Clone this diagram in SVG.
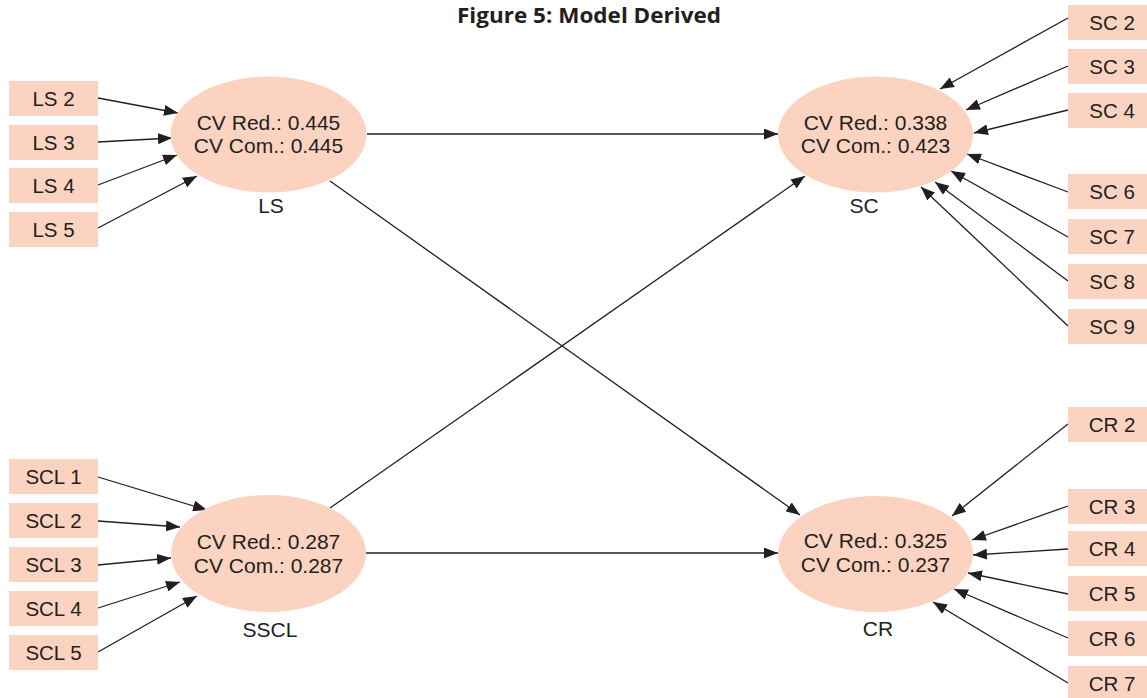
<svg xmlns="http://www.w3.org/2000/svg" width="1147" height="698" viewBox="0 0 1147 698">
  <defs>
    <marker id="arrow" markerUnits="userSpaceOnUse" markerWidth="14" markerHeight="11" refX="14" refY="5.5" orient="auto">
      <path d="M0,0 L14,5.5 L0,11 z" fill="#231f20"/>
    </marker>
    <style>
      .ind rect { fill: #fbd3c0; }
      .ind text { font-family: "Liberation Sans", Arial, sans-serif; font-size: 20.5px; fill: #231f20; text-anchor: middle; }
      .lat ellipse { fill: #fbd3c0; }
      .lat text { font-family: "Liberation Sans", Arial, sans-serif; font-size: 21px; fill: #231f20; text-anchor: middle; }
      #connectors line { stroke: #231f20; stroke-width: 1.3; fill: none; marker-end: url(#arrow); }
      .title { font-family: "Open Sans", "Liberation Sans", sans-serif; font-weight: bold; font-size: 21px; fill: #231f20; text-anchor: middle; }
    </style>
  </defs>
  <rect width="1147" height="698" fill="#ffffff"/>

  <text class="title" x="589" y="23" textLength="264" lengthAdjust="spacingAndGlyphs">Figure 5: Model Derived</text>

  <!-- connectors -->
  <g id="connectors">
    <!-- LS indicators -->
    <line x1="98" y1="98" x2="178" y2="113"/>
    <line x1="98" y1="142" x2="172" y2="138"/>
    <line x1="98" y1="185" x2="177" y2="155"/>
    <line x1="98" y1="228" x2="197" y2="176"/>
    <!-- SSCL indicators -->
    <line x1="98" y1="477" x2="207" y2="510"/>
    <line x1="98" y1="521" x2="180" y2="527"/>
    <line x1="98" y1="565" x2="171" y2="558"/>
    <line x1="98" y1="608" x2="180" y2="582"/>
    <line x1="98" y1="652" x2="197" y2="596"/>
    <!-- SC indicators -->
    <line x1="1068" y1="18" x2="940" y2="89"/>
    <line x1="1068" y1="66" x2="966" y2="110"/>
    <line x1="1068" y1="110" x2="974" y2="133"/>
    <line x1="1068" y1="192" x2="967" y2="154"/>
    <line x1="1068" y1="237" x2="951" y2="171"/>
    <line x1="1068" y1="281" x2="935" y2="182"/>
    <line x1="1068" y1="326" x2="921" y2="187"/>
    <!-- CR indicators -->
    <line x1="1068" y1="424" x2="952" y2="516"/>
    <line x1="1068" y1="506" x2="972" y2="540"/>
    <line x1="1068" y1="549" x2="973" y2="555"/>
    <line x1="1068" y1="594" x2="968" y2="573"/>
    <line x1="1068" y1="638" x2="954" y2="589"/>
    <line x1="1068" y1="683" x2="933" y2="602"/>
    <!-- structural paths -->
    <line x1="367" y1="134" x2="778" y2="134"/>
    <line x1="330" y1="181" x2="800" y2="515"/>
    <line x1="330" y1="508" x2="805" y2="176"/>
    <line x1="366" y1="553" x2="778" y2="553"/>
  </g>

  <!-- latent variables -->
  <g id="LS" class="lat">
    <ellipse cx="268.5" cy="134.5" rx="98" ry="58"/>
    <text x="268.5" y="130">CV Red.: 0.445</text>
    <text x="268.5" y="153">CV Com.: 0.445</text>
    <text x="271" y="213">LS</text>
  </g>
  <g id="SC" class="lat">
    <ellipse cx="875.5" cy="134.5" rx="97.5" ry="58"/>
    <text x="875.5" y="130">CV Red.: 0.338</text>
    <text x="875.5" y="153">CV Com.: 0.423</text>
    <text x="864" y="213">SC</text>
  </g>
  <g id="SSCL" class="lat">
    <ellipse cx="268.5" cy="553.5" rx="97.5" ry="58.5"/>
    <text x="268.5" y="549">CV Red.: 0.287</text>
    <text x="268.5" y="573">CV Com.: 0.287</text>
    <text x="270" y="637">SSCL</text>
  </g>
  <g id="CR" class="lat">
    <ellipse cx="875.5" cy="554" rx="97.5" ry="58"/>
    <text x="875.5" y="548">CV Red.: 0.325</text>
    <text x="875.5" y="572">CV Com.: 0.237</text>
    <text x="878" y="636">CR</text>
  </g>

  <!-- LS indicators -->
  <g id="LS2" class="ind"><rect x="9" y="81" width="89" height="35"/><text x="53.5" y="106">LS 2</text></g>
  <g id="LS3" class="ind"><rect x="9" y="125" width="89" height="35"/><text x="53.5" y="150">LS 3</text></g>
  <g id="LS4" class="ind"><rect x="9" y="168" width="89" height="35"/><text x="53.5" y="193">LS 4</text></g>
  <g id="LS5" class="ind"><rect x="9" y="212" width="89" height="35"/><text x="53.5" y="237">LS 5</text></g>

  <!-- SCL indicators -->
  <g id="SCL1" class="ind"><rect x="9" y="459" width="89" height="35"/><text x="53.5" y="484">SCL 1</text></g>
  <g id="SCL2" class="ind"><rect x="9" y="503" width="89" height="35"/><text x="53.5" y="528">SCL 2</text></g>
  <g id="SCL3" class="ind"><rect x="9" y="547" width="89" height="35"/><text x="53.5" y="572">SCL 3</text></g>
  <g id="SCL4" class="ind"><rect x="9" y="591" width="89" height="35"/><text x="53.5" y="616">SCL 4</text></g>
  <g id="SCL5" class="ind"><rect x="9" y="635" width="89" height="35"/><text x="53.5" y="660">SCL 5</text></g>

  <!-- SC indicators -->
  <g id="SC2" class="ind"><rect x="1068" y="5" width="89" height="35"/><text x="1112" y="30">SC 2</text></g>
  <g id="SC3" class="ind"><rect x="1068" y="49" width="89" height="35"/><text x="1112" y="74">SC 3</text></g>
  <g id="SC4" class="ind"><rect x="1068" y="93" width="89" height="35"/><text x="1112" y="118">SC 4</text></g>
  <g id="SC6" class="ind"><rect x="1068" y="174" width="89" height="35"/><text x="1112" y="199">SC 6</text></g>
  <g id="SC7" class="ind"><rect x="1068" y="219" width="89" height="35"/><text x="1112" y="244">SC 7</text></g>
  <g id="SC8" class="ind"><rect x="1068" y="264" width="89" height="35"/><text x="1112" y="289">SC 8</text></g>
  <g id="SC9" class="ind"><rect x="1068" y="309" width="89" height="35"/><text x="1112" y="334">SC 9</text></g>

  <!-- CR indicators -->
  <g id="CR2" class="ind"><rect x="1068" y="407" width="89" height="35"/><text x="1112" y="432">CR 2</text></g>
  <g id="CR3" class="ind"><rect x="1068" y="489" width="89" height="35"/><text x="1112" y="514">CR 3</text></g>
  <g id="CR4" class="ind"><rect x="1068" y="531" width="89" height="35"/><text x="1112" y="556">CR 4</text></g>
  <g id="CR5" class="ind"><rect x="1068" y="576" width="89" height="35"/><text x="1112" y="601">CR 5</text></g>
  <g id="CR6" class="ind"><rect x="1068" y="621" width="89" height="35"/><text x="1112" y="646">CR 6</text></g>
  <g id="CR7" class="ind"><rect x="1068" y="666" width="89" height="35"/><text x="1112" y="691">CR 7</text></g>
</svg>
